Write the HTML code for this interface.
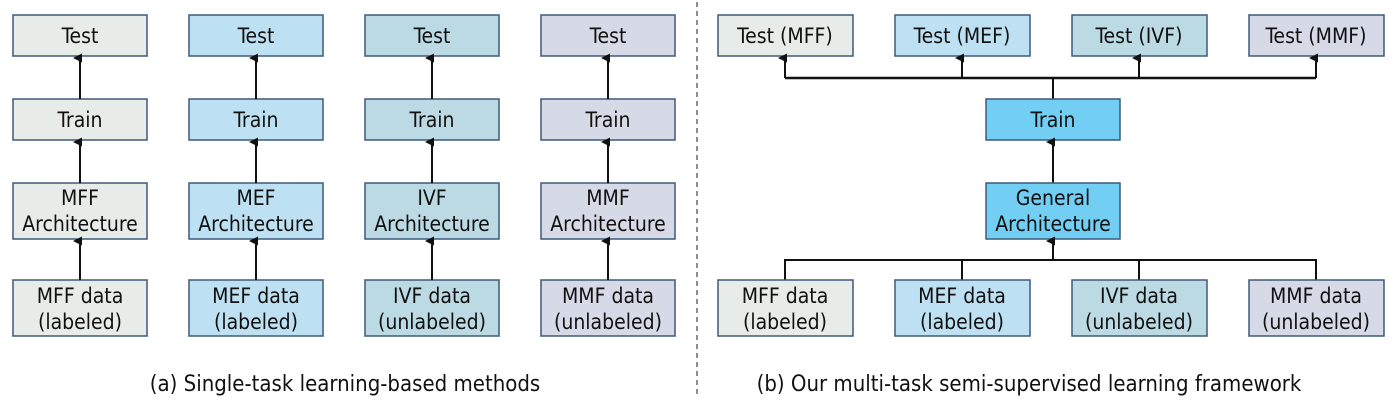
<!DOCTYPE html>
<html><head><meta charset="utf-8"><style>
html,body{margin:0;padding:0;background:#fff;}
svg{display:block;}
text{font-family:"DejaVu Sans Condensed","DejaVu Sans","Liberation Sans",sans-serif;font-size:21px;fill:#111;text-anchor:middle;}
.c{font-size:22px;}
rect{stroke:#3d5a7a;stroke-width:1.5;}
line,polyline{stroke:#111;stroke-width:2;fill:none;}
</style></head><body>
<svg width="1397" height="400" viewBox="0 0 1397 400">
<defs><marker id="a" markerWidth="9" markerHeight="9" refX="4.5" refY="7" orient="auto-start-reverse" markerUnits="userSpaceOnUse"><path d="M0,9 L4.5,0 L9,9 z" fill="#111"/></marker></defs>
<g id="cols">
<rect x="13" y="15" width="134" height="41" fill="#e8ece8"/><text x="80" y="43">Test</text>
<rect x="13" y="99" width="134" height="41" fill="#e8ece8"/><text x="80" y="127">Train</text>
<rect x="13" y="183" width="134" height="56" fill="#e8ece8"/><text x="80" y="205">MFF</text><text x="80" y="231">Architecture</text>
<rect x="13" y="280" width="134" height="56" fill="#e8ece8"/><text x="80" y="303">MFF data</text><text x="80" y="329">(labeled)</text>
<line x1="80" y1="99" x2="80" y2="58" marker-end="url(#a)"/>
<line x1="80" y1="183" x2="80" y2="142" marker-end="url(#a)"/>
<line x1="80" y1="280" x2="80" y2="241" marker-end="url(#a)"/>
<rect x="189" y="15" width="134" height="41" fill="#bde1f2"/><text x="256" y="43">Test</text>
<rect x="189" y="99" width="134" height="41" fill="#bde1f2"/><text x="256" y="127">Train</text>
<rect x="189" y="183" width="134" height="56" fill="#bde1f2"/><text x="256" y="205">MEF</text><text x="256" y="231">Architecture</text>
<rect x="189" y="280" width="134" height="56" fill="#bde1f2"/><text x="256" y="303">MEF data</text><text x="256" y="329">(labeled)</text>
<line x1="256" y1="99" x2="256" y2="58" marker-end="url(#a)"/>
<line x1="256" y1="183" x2="256" y2="142" marker-end="url(#a)"/>
<line x1="256" y1="280" x2="256" y2="241" marker-end="url(#a)"/>
<rect x="365" y="15" width="134" height="41" fill="#bcdae4"/><text x="432" y="43">Test</text>
<rect x="365" y="99" width="134" height="41" fill="#bcdae4"/><text x="432" y="127">Train</text>
<rect x="365" y="183" width="134" height="56" fill="#bcdae4"/><text x="432" y="205">IVF</text><text x="432" y="231">Architecture</text>
<rect x="365" y="280" width="134" height="56" fill="#bcdae4"/><text x="432" y="303">IVF data</text><text x="432" y="329">(unlabeled)</text>
<line x1="432" y1="99" x2="432" y2="58" marker-end="url(#a)"/>
<line x1="432" y1="183" x2="432" y2="142" marker-end="url(#a)"/>
<line x1="432" y1="280" x2="432" y2="241" marker-end="url(#a)"/>
<rect x="541" y="15" width="134" height="41" fill="#d6dae6"/><text x="608" y="43">Test</text>
<rect x="541" y="99" width="134" height="41" fill="#d6dae6"/><text x="608" y="127">Train</text>
<rect x="541" y="183" width="134" height="56" fill="#d6dae6"/><text x="608" y="205">MMF</text><text x="608" y="231">Architecture</text>
<rect x="541" y="280" width="134" height="56" fill="#d6dae6"/><text x="608" y="303">MMF data</text><text x="608" y="329">(unlabeled)</text>
<line x1="608" y1="99" x2="608" y2="58" marker-end="url(#a)"/>
<line x1="608" y1="183" x2="608" y2="142" marker-end="url(#a)"/>
<line x1="608" y1="280" x2="608" y2="241" marker-end="url(#a)"/>
</g>
<text class="c" x="345" y="391">(a) Single-task learning-based methods</text>
<line x1="697" y1="2" x2="697" y2="398" style="stroke:#444;stroke-width:1.2;stroke-dasharray:5,4"/>
<rect x="718" y="15" width="135" height="41" fill="#e8ece8"/><text x="785" y="43">Test (MFF)</text>
<rect x="895" y="15" width="135" height="41" fill="#bde1f2"/><text x="962" y="43">Test (MEF)</text>
<rect x="1072" y="15" width="135" height="41" fill="#bcdae4"/><text x="1139" y="43">Test (IVF)</text>
<rect x="1249" y="15" width="135" height="41" fill="#d6dae6"/><text x="1316" y="43">Test (MMF)</text>
<polyline points="785,78 1316,78" style="stroke-width:2.5"/>
<line x1="785" y1="78" x2="785" y2="58" marker-end="url(#a)"/>
<line x1="962" y1="78" x2="962" y2="58" marker-end="url(#a)"/>
<line x1="1139" y1="78" x2="1139" y2="58" marker-end="url(#a)"/>
<line x1="1316" y1="78" x2="1316" y2="58" marker-end="url(#a)"/>
<line x1="1053" y1="78" x2="1053" y2="99"/>
<rect x="986" y="99" width="134" height="41" fill="#72cef2"/><text x="1053" y="127">Train</text>
<line x1="1053" y1="183" x2="1053" y2="142" marker-end="url(#a)"/>
<rect x="986" y="183" width="134" height="56" fill="#72cef2"/><text x="1053" y="205">General</text><text x="1053" y="231">Architecture</text>
<polyline points="785,280 785,260 1316,260 1316,280"/>
<line x1="962" y1="260" x2="962" y2="280"/>
<line x1="1139" y1="260" x2="1139" y2="280"/>
<line x1="1053" y1="260" x2="1053" y2="241" marker-end="url(#a)"/>
<rect x="718" y="280" width="135" height="56" fill="#e8ece8"/><text x="785" y="303">MFF data</text><text x="785" y="329">(labeled)</text>
<rect x="895" y="280" width="135" height="56" fill="#bde1f2"/><text x="962" y="303">MEF data</text><text x="962" y="329">(labeled)</text>
<rect x="1072" y="280" width="135" height="56" fill="#bcdae4"/><text x="1139" y="303">IVF data</text><text x="1139" y="329">(unlabeled)</text>
<rect x="1249" y="280" width="135" height="56" fill="#d6dae6"/><text x="1316" y="303">MMF data</text><text x="1316" y="329">(unlabeled)</text>
<text class="c" x="1029" y="391">(b) Our multi-task semi-supervised learning framework</text>
</svg>
</body></html>
